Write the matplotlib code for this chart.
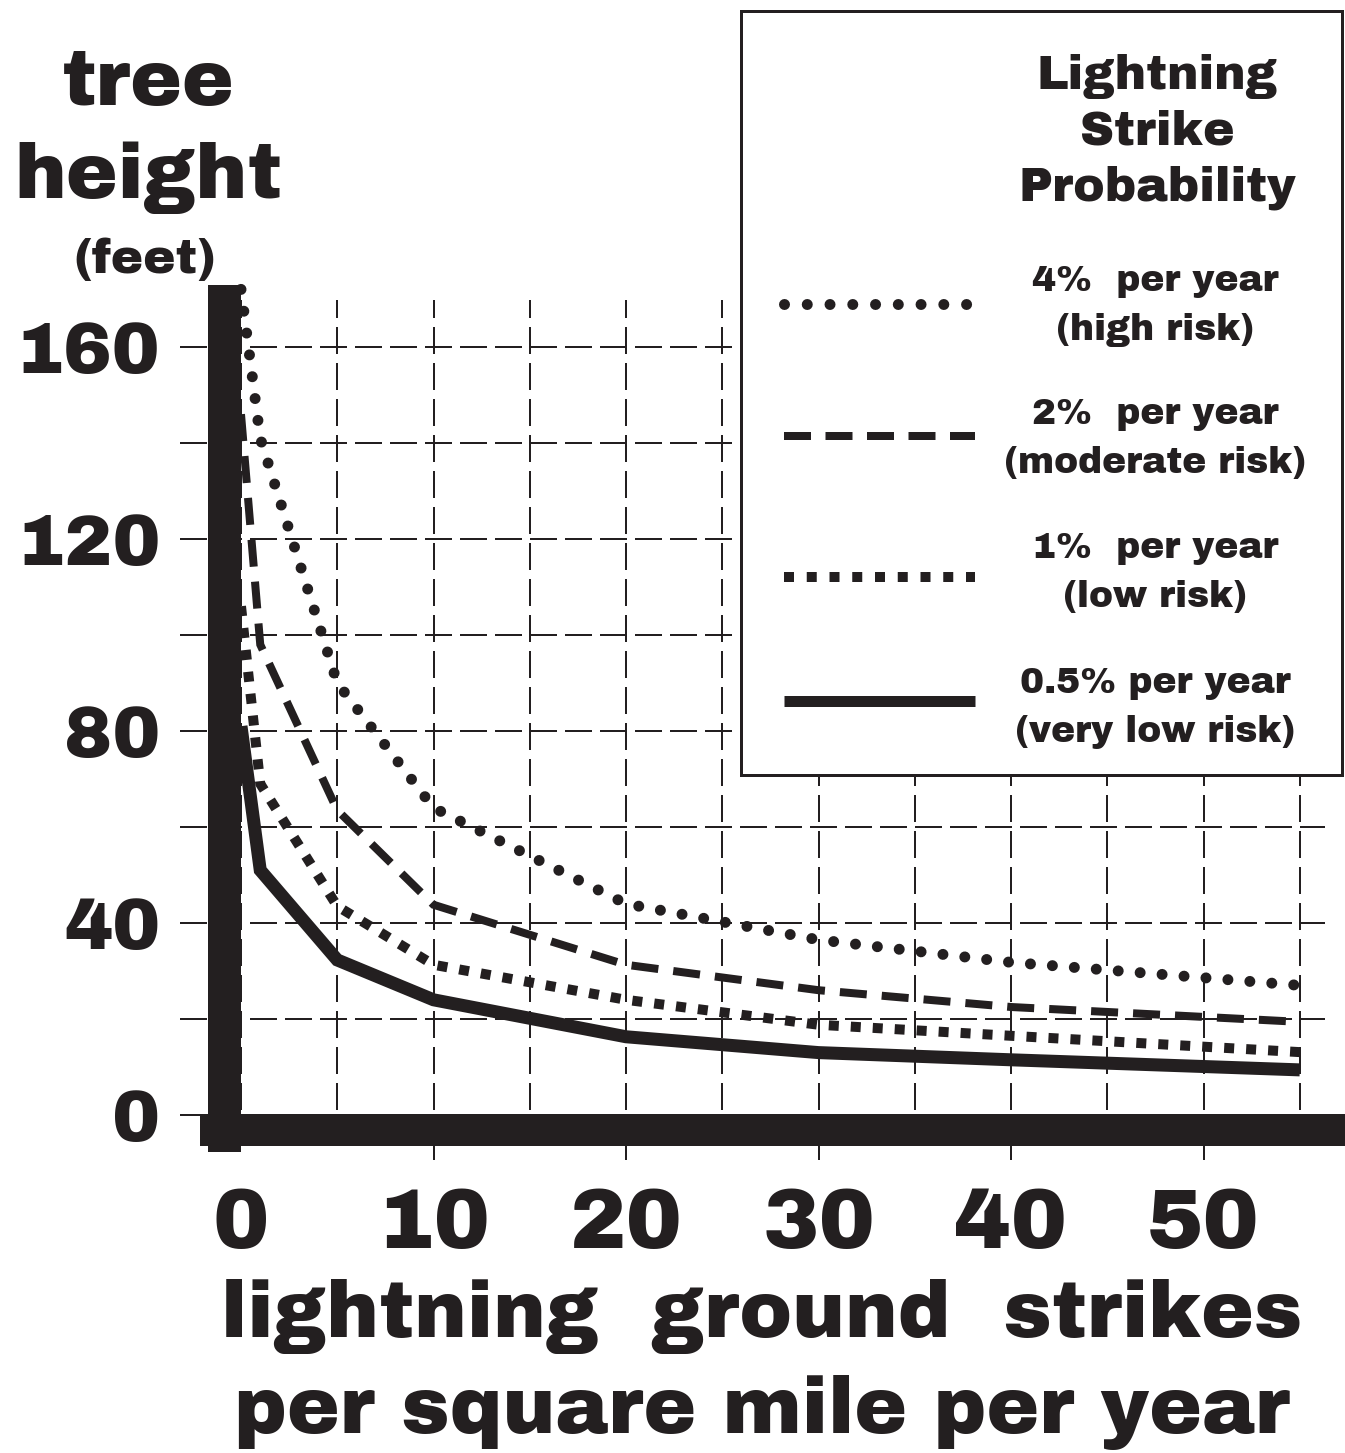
import matplotlib
matplotlib.use('Agg')
import matplotlib.pyplot as plt
from matplotlib.patches import Rectangle
from matplotlib.lines import Line2D

# ---------------- data ----------------
strikes = [0, 1, 5, 10, 20, 30, 40, 55]
height_4pct = [172, 141, 90, 64, 44, 36.5, 31.8, 27]
height_2pct = [146, 98, 63.5, 43.8, 31.3, 26, 22.5, 19.4]
height_1pct = [106, 69, 43.5, 31.3, 24, 18.8, 16.5, 13.1]
height_05pct = [81, 51, 32.3, 24, 16.3, 13, 11.5, 9.4]
series_labels = ["4%  per year\n(high risk)",
                 "2%  per year\n(moderate risk)",
                 "1%  per year\n(low risk)",
                 "0.5% per year\n(very low risk)"]
x_major = [0, 10, 20, 30, 40, 50]
x_minor = [5, 15, 25, 35, 45, 55]
y_major = [0, 40, 80, 120, 160]
y_minor = [20, 60, 100, 140]
legend_title = "Lightning\nStrike\nProbability"
x_label = "lightning  ground  strikes\nper square mile per year"
y_label = "tree\nheight"
y_unit = "(feet)"

# ---------------- setup ----------------
W, H, DPI = 1345, 1453, 100
PT = 72.0 / DPI          # points per pixel
INK = '#231f20'
plt.rcParams['font.family'] = ['Archivo Black', 'DejaVu Sans']


def fx(px):
    return px / W


def fy(py):
    return 1 - py / H


def dash(lw_px, on_px, off_px):
    return (0, (on_px / lw_px, off_px / lw_px))


fig = plt.figure(figsize=(W / DPI, H / DPI), dpi=DPI, facecolor='white')
L, R, T, B = 180, 1325, 300, 1146
ax = fig.add_axes([fx(L), fy(B), (R - L) / W, (B - T) / H])
X0, SX = 241, 19.25     # pixel of x=0, pixels per unit
Y0, SY = 1115, 4.8      # pixel of y=0, pixels per unit
ax.set_xlim((L - X0) / SX, (R - X0) / SX)
ax.set_ylim((Y0 - B) / SY, (Y0 - T) / SY)
for s in ax.spines.values():
    s.set_visible(False)

# ---------------- series ----------------
styles = [
    dict(lw=11 * PT, linestyle=dash(11, 0.01, 22), dash_capstyle='round'),
    dict(lw=8 * PT, linestyle=dash(8, 27, 15), dash_capstyle='butt', dash_joinstyle='miter'),
    dict(lw=10 * PT, linestyle=dash(10, 10, 12), dash_capstyle='butt', dash_joinstyle='miter'),
    dict(lw=13 * PT, linestyle='-', solid_capstyle='butt', solid_joinstyle='miter'),
]
legend_styles = [
    dict(lw=11 * PT, linestyle=dash(11, 0.01, 22.75), dash_capstyle='round'),
    dict(lw=8 * PT, linestyle=dash(8, 27, 14.5), dash_capstyle='butt'),
    dict(lw=10 * PT, linestyle=dash(10, 10, 12.75), dash_capstyle='butt'),
    dict(lw=11 * PT, linestyle='-', solid_capstyle='butt'),
]
for vals, st in zip([height_4pct, height_2pct, height_1pct, height_05pct], styles):
    ax.plot(strikes, vals, color=INK, clip_on=False, zorder=3, **st)

# ---------------- grid & ticks ----------------
ax.set_xticks(x_major)
ax.set_xticks(x_minor, minor=True)
ax.set_yticks(y_major)
ax.set_yticks(y_minor, minor=True)
ax.xaxis.grid(True, which='both', color=INK, lw=2 * PT, linestyle=dash(2, 27, 9))
ax.yaxis.grid(True, which='both', color=INK, lw=2 * PT, linestyle=dash(2, 27, 8))
ax.set_axisbelow(True)
ax.tick_params(axis='x', which='major', direction='out', length=14 * PT, width=2 * PT,
               color=INK, pad=19, labelsize=61, labelcolor=INK)
ax.tick_params(axis='x', which='minor', length=0)
ax.tick_params(axis='y', which='both', length=0, pad=14, labelsize=52, labelcolor=INK)
ax.xaxis.get_major_ticks()[0].tick1line.set_visible(False)

# heavy axis bars
ax.add_patch(Rectangle(((208 - X0) / SX, (Y0 - 1152) / SY), (241.5 - 208) / SX, (1152 - 285) / SY,
                       facecolor=INK, edgecolor='none', clip_on=False, zorder=4))
ax.add_patch(Rectangle(((200 - X0) / SX, (Y0 - 1146) / SY), (1345 - 200) / SX, (1146 - 1114) / SY,
                       facecolor=INK, edgecolor='none', clip_on=False, zorder=4))

# ---------------- axis labels ----------------
ax.set_ylabel(y_label, rotation=0, fontsize=56, color=INK, ha='center', va='baseline',
              multialignment='center', linespacing=1.37)
ax.yaxis.set_label_coords(fx(148), fy(177), transform=fig.transFigure)
fig.text(fx(145), fy(273), y_unit, ha='center', va='baseline', fontsize=35, color=INK)

ax.set_xlabel(x_label, fontsize=57, color=INK, ha='center', va='baseline',
              multialignment='center', linespacing=1.37)
ax.xaxis.set_label_coords(fx(762), fy(1433), transform=fig.transFigure)

# ---------------- legend ----------------
fig.add_artist(Rectangle((fx(741), fy(775)), (1342 - 741) / W, (775 - 11) / H,
                         transform=fig.transFigure, facecolor='white', edgecolor=INK,
                         lw=3 * PT, zorder=5))
fig.text(fx(1157), fy(200), legend_title, ha='center', va='baseline', multialignment='center',
         fontsize=34, linespacing=1.32, color=INK, zorder=6)
label_baselines = [340, 473, 607, 742]
sample_y = [304, 436, 577, 701]
for lab, by, sy, st in zip(series_labels, label_baselines, sample_y, legend_styles):
    fig.text(fx(1155), fy(by), lab, ha='center', va='baseline', multialignment='center',
             fontsize=26, linespacing=1.57, color=INK, zorder=6)
    fig.add_artist(Line2D([fx(784), fx(975)], [fy(sy), fy(sy)], transform=fig.transFigure,
                          color=INK, zorder=6, **st))

fig.savefig('out.png', dpi=DPI, facecolor='white')
